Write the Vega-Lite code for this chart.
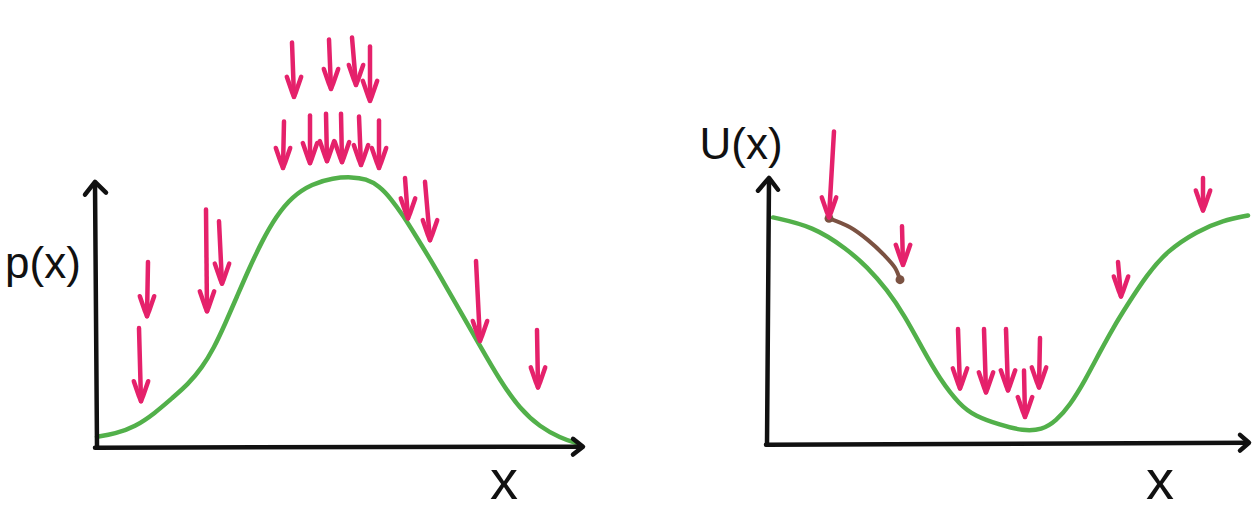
{
  "$schema": "https://vega.github.io/schema/vega-lite/v6.json",
  "width": 1258,
  "height": 510,
  "padding": 0,
  "autosize": {"type": "fit", "contains": "padding"},
  "background": "white",
  "config": {"view": {"stroke": null}},
  "datasets": {
    "axes": [
      {"s": "L-y", "i": 0, "x": 97, "y": 452}, {"s": "L-y", "i": 1, "x": 95, "y": 185},
      {"s": "L-yh", "i": 0, "x": 85, "y": 197}, {"s": "L-yh", "i": 1, "x": 95, "y": 184}, {"s": "L-yh", "i": 2, "x": 106, "y": 195},
      {"s": "L-x", "i": 0, "x": 95, "y": 453}, {"s": "L-x", "i": 1, "x": 582, "y": 452},
      {"s": "L-xh", "i": 0, "x": 573, "y": 444}, {"s": "L-xh", "i": 1, "x": 583, "y": 452}, {"s": "L-xh", "i": 2, "x": 573, "y": 460},
      {"s": "R-y", "i": 0, "x": 767, "y": 450}, {"s": "R-y", "i": 1, "x": 769, "y": 181},
      {"s": "R-yh", "i": 0, "x": 758, "y": 193}, {"s": "R-yh", "i": 1, "x": 769, "y": 180}, {"s": "R-yh", "i": 2, "x": 778, "y": 192},
      {"s": "R-x", "i": 0, "x": 766, "y": 450}, {"s": "R-x", "i": 1, "x": 1248, "y": 448},
      {"s": "R-xh", "i": 0, "x": 1240, "y": 440}, {"s": "R-xh", "i": 1, "x": 1249, "y": 448}, {"s": "R-xh", "i": 2, "x": 1240, "y": 456}
    ],
    "curves": [
      {"s": "p", "i": 0, "x": 97, "y": 442}, {"s": "p", "i": 1, "x": 115, "y": 439},
      {"s": "p", "i": 2, "x": 135, "y": 432}, {"s": "p", "i": 3, "x": 155, "y": 418},
      {"s": "p", "i": 4, "x": 172, "y": 403}, {"s": "p", "i": 5, "x": 188, "y": 389},
      {"s": "p", "i": 6, "x": 202, "y": 372}, {"s": "p", "i": 7, "x": 214, "y": 352},
      {"s": "p", "i": 8, "x": 225, "y": 328}, {"s": "p", "i": 9, "x": 237, "y": 300},
      {"s": "p", "i": 10, "x": 249, "y": 272}, {"s": "p", "i": 11, "x": 262, "y": 244},
      {"s": "p", "i": 12, "x": 276, "y": 219}, {"s": "p", "i": 13, "x": 292, "y": 199},
      {"s": "p", "i": 14, "x": 312, "y": 186}, {"s": "p", "i": 15, "x": 333, "y": 180},
      {"s": "p", "i": 16, "x": 352, "y": 179}, {"s": "p", "i": 17, "x": 366, "y": 181},
      {"s": "p", "i": 18, "x": 379, "y": 188}, {"s": "p", "i": 19, "x": 391, "y": 201},
      {"s": "p", "i": 20, "x": 403, "y": 218}, {"s": "p", "i": 21, "x": 416, "y": 239},
      {"s": "p", "i": 22, "x": 430, "y": 262}, {"s": "p", "i": 23, "x": 445, "y": 288},
      {"s": "p", "i": 24, "x": 462, "y": 318}, {"s": "p", "i": 25, "x": 480, "y": 350},
      {"s": "p", "i": 26, "x": 500, "y": 385}, {"s": "p", "i": 27, "x": 520, "y": 414},
      {"s": "p", "i": 28, "x": 540, "y": 432}, {"s": "p", "i": 29, "x": 560, "y": 443},
      {"s": "p", "i": 30, "x": 578, "y": 449},
      {"s": "U", "i": 0, "x": 773, "y": 220}, {"s": "U", "i": 1, "x": 813, "y": 229},
      {"s": "U", "i": 2, "x": 847, "y": 252}, {"s": "U", "i": 3, "x": 867, "y": 270},
      {"s": "U", "i": 4, "x": 887, "y": 293}, {"s": "U", "i": 5, "x": 905, "y": 320},
      {"s": "U", "i": 6, "x": 922, "y": 352}, {"s": "U", "i": 7, "x": 940, "y": 384},
      {"s": "U", "i": 8, "x": 960, "y": 410}, {"s": "U", "i": 9, "x": 975, "y": 421},
      {"s": "U", "i": 10, "x": 1000, "y": 430}, {"s": "U", "i": 11, "x": 1023, "y": 436},
      {"s": "U", "i": 12, "x": 1042, "y": 435}, {"s": "U", "i": 13, "x": 1056, "y": 426},
      {"s": "U", "i": 14, "x": 1070, "y": 410}, {"s": "U", "i": 15, "x": 1085, "y": 385},
      {"s": "U", "i": 16, "x": 1100, "y": 356}, {"s": "U", "i": 17, "x": 1113, "y": 332},
      {"s": "U", "i": 18, "x": 1127, "y": 309}, {"s": "U", "i": 19, "x": 1147, "y": 278},
      {"s": "U", "i": 20, "x": 1167, "y": 254}, {"s": "U", "i": 21, "x": 1197, "y": 234},
      {"s": "U", "i": 22, "x": 1223, "y": 223}, {"s": "U", "i": 23, "x": 1248, "y": 218}
    ],
    "step": [
      {"i": 0, "x": 829, "y": 221}, {"i": 1, "x": 850, "y": 230},
      {"i": 2, "x": 868, "y": 243}, {"i": 3, "x": 884, "y": 258},
      {"i": 4, "x": 895, "y": 271}, {"i": 5, "x": 900, "y": 283}
    ],
    "arrows": [
      {"x": 292, "top": 43, "tx": 294, "tip": 98},
      {"x": 329, "top": 40, "tx": 331, "tip": 90},
      {"x": 352, "top": 38, "tx": 356, "tip": 86},
      {"x": 370, "top": 47, "tx": 370, "tip": 102},
      {"x": 284, "top": 123, "tx": 283, "tip": 170},
      {"x": 310, "top": 117, "tx": 310, "tip": 165},
      {"x": 326, "top": 115, "tx": 327, "tip": 163},
      {"x": 341, "top": 115, "tx": 342, "tip": 164},
      {"x": 359, "top": 118, "tx": 361, "tip": 167},
      {"x": 379, "top": 122, "tx": 379, "tip": 170},
      {"x": 405, "top": 180, "tx": 408, "tip": 221},
      {"x": 425, "top": 184, "tx": 430, "tip": 243},
      {"x": 148, "top": 265, "tx": 147, "tip": 320},
      {"x": 139, "top": 332, "tx": 141, "tip": 406},
      {"x": 206, "top": 212, "tx": 207, "tip": 315},
      {"x": 219, "top": 224, "tx": 222, "tip": 287},
      {"x": 476, "top": 264, "tx": 480, "tip": 345},
      {"x": 537, "top": 334, "tx": 538, "tip": 392},
      {"x": 834, "top": 133, "tx": 829, "tip": 220},
      {"x": 902, "top": 229, "tx": 903, "tip": 268},
      {"x": 958, "top": 333, "tx": 960, "tip": 393},
      {"x": 984, "top": 333, "tx": 986, "tip": 397},
      {"x": 1006, "top": 333, "tx": 1008, "tip": 395},
      {"x": 1024, "top": 375, "tx": 1025, "tip": 422},
      {"x": 1040, "top": 342, "tx": 1039, "tip": 392},
      {"x": 1203, "top": 180, "tx": 1203, "tip": 213},
      {"x": 1118, "top": 265, "tx": 1121, "tip": 300}
    ],
    "labels": [
      {"t": "p(x)", "role": "name", "x": 43, "y": 268},
      {"t": "U(x)", "role": "name", "x": 741, "y": 148},
      {"t": "x", "role": "var", "x": 504, "y": 488},
      {"t": "x", "role": "var", "x": 1160, "y": 488}
    ]
  },
  "encoding": {
    "x": {"type": "quantitative", "scale": {"domain": [0, 1258], "nice": false, "zero": false}, "axis": null},
    "y": {"type": "quantitative", "scale": {"domain": [0, 510], "nice": false, "zero": false, "reverse": true}, "axis": null}
  },
  "layer": [
    {
      "data": {"name": "curves"},
      "mark": {"type": "line", "color": "#52b04a", "strokeWidth": 4.5, "strokeCap": "round", "interpolate": "basis"},
      "encoding": {
        "x": {"field": "x", "type": "quantitative"},
        "y": {"field": "y", "type": "quantitative"},
        "detail": {"field": "s"},
        "order": {"field": "i", "type": "quantitative"}
      }
    },
    {
      "data": {"name": "axes"},
      "mark": {"type": "line", "color": "#111111", "strokeWidth": 4.5, "strokeCap": "round", "strokeJoin": "round"},
      "encoding": {
        "x": {"field": "x", "type": "quantitative"},
        "y": {"field": "y", "type": "quantitative"},
        "detail": {"field": "s"},
        "order": {"field": "i", "type": "quantitative"}
      }
    },
    {
      "data": {"name": "step"},
      "mark": {"type": "line", "color": "#7b5242", "strokeWidth": 4, "strokeCap": "round", "interpolate": "catmull-rom"},
      "encoding": {
        "x": {"field": "x", "type": "quantitative"},
        "y": {"field": "y", "type": "quantitative"},
        "order": {"field": "i", "type": "quantitative"}
      }
    },
    {
      "data": {"name": "step"},
      "transform": [{"filter": "datum.i == 0 || datum.i == 5"}],
      "mark": {"type": "point", "filled": true, "color": "#7b5242", "size": 80, "opacity": 1},
      "encoding": {
        "x": {"field": "x", "type": "quantitative"},
        "y": {"field": "y", "type": "quantitative"}
      }
    },
    {
      "data": {"name": "arrows"},
      "mark": {"type": "rule", "color": "#e5216b", "strokeWidth": 4.5, "strokeCap": "round"},
      "encoding": {
        "x": {"field": "x", "type": "quantitative"},
        "y": {"field": "top", "type": "quantitative"},
        "x2": {"field": "tx"},
        "y2": {"field": "tip"}
      }
    },
    {
      "data": {"name": "arrows"},
      "mark": {
        "type": "point",
        "shape": "M -0.36 -1 L -0.1 -0.25 L 0 0 L 0.1 -0.25 L 0.36 -1",
        "filled": false,
        "color": "#e5216b",
        "strokeWidth": 4.5,
        "strokeCap": "round",
        "strokeJoin": "round",
        "size": 1600,
        "opacity": 1
      },
      "encoding": {
        "x": {"field": "tx", "type": "quantitative"},
        "y": {"field": "tip", "type": "quantitative"}
      }
    },
    {
      "data": {"name": "labels"},
      "transform": [{"filter": "datum.role == 'name'"}],
      "mark": {"type": "text", "font": "Liberation Sans", "fontSize": 44, "color": "#111111", "align": "center", "baseline": "middle"},
      "encoding": {
        "x": {"field": "x", "type": "quantitative"},
        "y": {"field": "y", "type": "quantitative"},
        "text": {"field": "t"}
      }
    },
    {
      "data": {"name": "labels"},
      "transform": [{"filter": "datum.role == 'var'"}],
      "mark": {"type": "text", "font": "Liberation Sans", "fontSize": 56, "color": "#111111", "align": "center", "baseline": "middle"},
      "encoding": {
        "x": {"field": "x", "type": "quantitative"},
        "y": {"field": "y", "type": "quantitative"},
        "text": {"field": "t"}
      }
    }
  ]
}
